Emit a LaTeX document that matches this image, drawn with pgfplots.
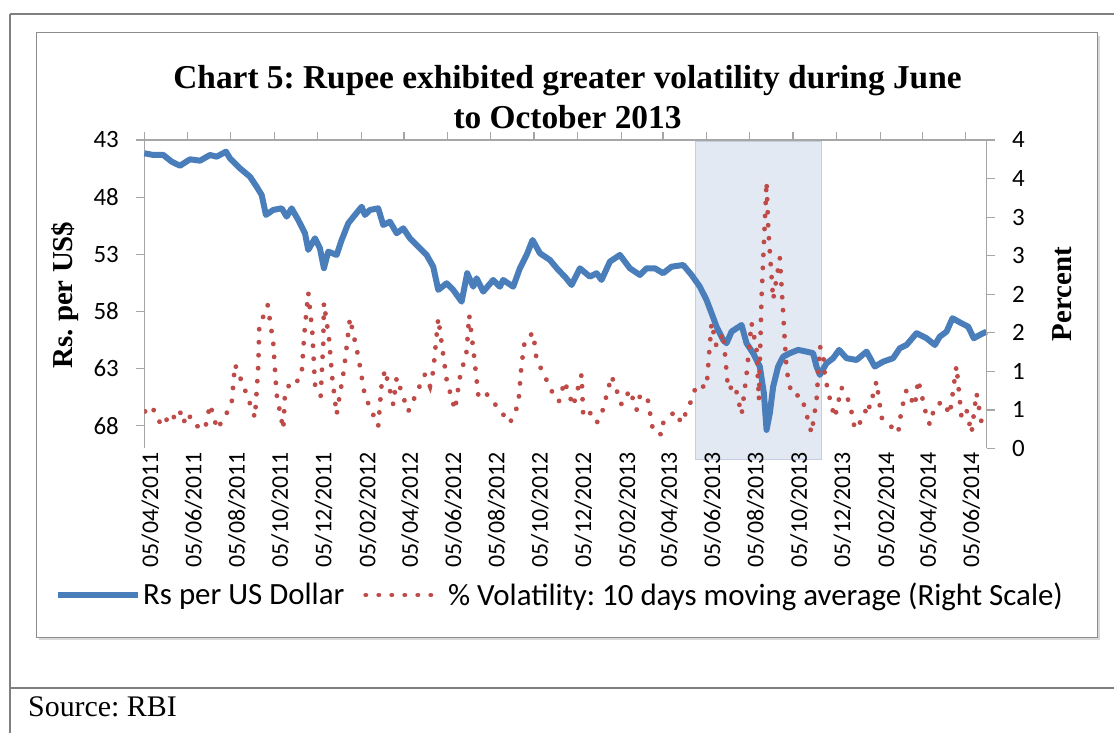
\documentclass[border=0pt]{standalone}
\usepackage{fontspec}
\setmainfont{Liberation Serif}
\newfontfamily\calibri{Carlito}
\usepackage{pgfplots}
\pgfplotsset{compat=1.18}
\definecolor{rsblue}{HTML}{4A7EBB}
\definecolor{volred}{HTML}{BE4B48}
\definecolor{axisgray}{HTML}{A6A6A6}
\definecolor{shadeblue}{HTML}{E3E9F3}
\definecolor{shadeedge}{HTML}{C3CEE0}
\definecolor{framegray}{HTML}{8C8C8C}
\definecolor{pagegray}{HTML}{7F7F7F}
\frenchspacing

% day 0 = 05/04/2011, ticks every two months
\pgfplotsset{
  chartbase/.style={
    at={(144.3bp,284.5bp)}, anchor=south west, scale only axis,
    width=842.4bp, height=308.5bp,
    xmin=0, xmax=1187,
    axis line style={draw=axisgray, line width=1.5bp},
    tick style={draw=axisgray, line width=1.2bp},
    major tick length=8bp,
    /pgf/number format/assume math mode=true,
    tick label style={font=\calibri\fontsize{25}{30}\selectfont, text=black},
    xtick={0,61,122,183,244,306,366,427,488,549,610,672,731,792,853,914,975,1037,1096,1157},
  },
  linelegend/.style={legend image code/.code={\draw[##1] (0bp,0bp) -- (80bp,0bp);}},
  dotlegend/.style={legend image code/.code={\draw[##1] (2bp,0bp) -- (70bp,0bp); \path (80bp,0bp);}},
}

\begin{document}
\begin{tikzpicture}
\useasboundingbox (0,0) rectangle (1114bp,733bp);
% page frame
\draw[pagegray, line width=2bp] (10bp,719bp) -- (1114bp,719bp);
\draw[pagegray, line width=1.5bp] (10bp,719bp) -- (10bp,0bp);
\draw[pagegray, line width=2bp] (10bp,45bp) -- (1114bp,45bp);
\node[anchor=west, inner sep=0pt, font=\fontsize{30}{34}\selectfont] at (28bp,26bp) {Source: RBI};
% chart frame
\fill[black!15] (39bp,93bp) rectangle (1100bp,697bp);
\draw[framegray, line width=1bp, fill=white] (36bp,95bp) rectangle (1097bp,700bp);

% left scale: Rs per US dollar (reversed)
\begin{axis}[chartbase,
  y dir=reverse, ymin=43, ymax=70, ytick={43,48,53,58,63,68},
  axis y line*=left, axis x line=none, tick align=outside, clip=false,
  yticklabel style={xshift=-14bp},
  ylabel={Rs. per US\$},
  ylabel style={at={(axis description cs:-0.0941,0.4976)}, anchor=center,
    font=\bfseries\fontsize{29}{32}\selectfont},
]
\fill[shadeblue, draw=shadeedge, line width=1bp] (axis cs:776,43.1) rectangle (axis cs:954,71.0);
\addplot[rsblue, line width=6bp, line join=round] coordinates {
(0,44.16) (12.7,44.31) (26.8,44.31) (38.6,44.90) (50.3,45.25) (64.4,44.69)
(78.5,44.81) (92.6,44.31) (102.0,44.46) (115.1,44.02) (120.7,44.60) (134.8,45.48)
(148.9,46.21) (158.3,47.09) (165.4,47.81) (171.4,49.56) (181.7,49.12) (193.6,48.98)
(200.6,49.71) (207.6,48.98) (216.9,50.00) (226.4,51.16) (231.0,52.62) (240.5,51.60)
(247.5,52.48) (253.1,54.22) (259.2,52.77) (271.0,53.06) (278.1,51.75) (287.4,50.29)
(296.8,49.56) (306.3,48.84) (310.9,49.56) (318.0,49.12) (329.6,48.98) (336.7,50.44)
(346.1,50.15) (355.6,51.16) (364.9,50.73) (374.3,51.60) (386.0,52.34) (397.8,53.06)
(407.1,54.09) (414.2,56.12) (426.0,55.54) (435.3,56.12) (447.1,57.15) (455.0,54.66)
(463.5,55.84) (468.2,55.10) (477.6,56.27) (491.6,55.25) (501.1,55.84) (505.7,55.25)
(519.8,55.84) (529.2,54.23) (538.7,53.06) (547.1,51.75) (557.4,52.91) (571.5,53.50)
(583.2,54.37) (592.6,54.96) (602.1,55.69) (613.8,54.23) (627.9,54.96) (637.3,54.66)
(644.3,55.25) (656.0,53.65) (670.1,53.06) (684.2,54.23) (698.3,54.81) (707.7,54.23)
(719.4,54.23) (731.1,54.66) (742.9,54.09) (759.3,53.94) (771.1,54.81) (782.8,55.84)
(792.2,57.00) (799.3,58.16) (806.3,59.33) (815.6,60.50) (820.4,60.79) (827.5,59.77)
(841.6,59.19) (848.6,60.79) (857.9,61.66) (867.3,62.83) (873.0,65.16) (876.8,68.37)
(881.4,66.91) (886.1,64.58) (893.1,62.83) (900.2,61.96) (909.6,61.66) (921.3,61.37)
(933.1,61.52) (942.4,61.66) (947.2,62.83) (951.9,63.56) (961.3,62.54) (970.6,62.10)
(979.0,61.37) (989.5,62.10) (1003.6,62.25) (1017.7,61.52) (1029.3,62.83) (1041.0,62.40)
(1055.1,62.10) (1064.6,61.22) (1074.0,60.94) (1088.1,59.91) (1102.2,60.35) (1113.9,60.94)
(1120.9,60.21) (1130.4,59.77) (1138.8,58.60) (1151.5,59.04) (1160.8,59.33) (1168.8,60.35)
(1177.3,60.06) (1186.7,59.77)
};
\end{axis}

% right scale: volatility (percent)
\begin{axis}[chartbase,
  ymin=0, ymax=4, ytick={0,0.5,1,1.5,2,2.5,3,3.5,4},
  yticklabels={0,1,1,2,2,3,3,4,4},
  axis y line*=right, axis x line*=top, tick align=outside,
  xticklabels={},
  yticklabel style={xshift=14bp},
  ylabel={Percent},
  ylabel style={at={(axis description cs:1.0894,0.5)}, anchor=center, rotate=0,
    font=\bfseries\fontsize{29}{32}\selectfont},
]
\addplot[volred, line width=4.8bp, line cap=round, dash pattern=on 0.1bp off 12.9bp] coordinates {
(1.0,0.48) (10.4,0.55) (24.5,0.29) (38.6,0.46) (43.2,0.38) (50.3,0.48) (54.9,0.33)
(62.0,0.46) (69.0,0.31) (85.5,0.25) (92.6,0.57) (98.2,0.40) (102.8,0.25) (116.1,0.46)
(123.1,0.59) (127.8,1.09) (137.2,0.87) (144.3,0.70) (155.9,0.40) (160.6,1.07) (162.0,1.58)
(173.8,1.86) (181.7,1.37) (186.5,0.70) (195.8,0.25) (198.2,0.70) (205.2,0.85) (212.3,0.83)
(221.7,0.96) (225.4,1.48) (231.0,2.02) (236.7,1.52) (240.5,0.83) (248.5,0.68) (252.2,1.37)
(253.1,1.89) (260.2,1.43) (264.8,0.92) (271.0,0.44) (281.3,1.02) (289.8,1.69)
(301.5,1.19) (310.9,0.68) (329.6,0.29) (334.4,0.83) (339.1,1.02) (350.8,0.57) (355.6,0.92)
(371.9,0.48) (383.7,0.72) (395.4,0.96) (402.5,0.81) (407.1,1.00) (414.2,1.69) (418.9,1.37)
(426.0,0.89) (437.7,0.50) (444.7,0.92) (454.2,1.26) (457.8,1.73) (464.4,1.22) (470.5,0.70)
(477.6,0.76) (496.4,0.55) (515.2,0.33) (526.9,0.57) (531.6,1.09) (536.3,1.41) (548.0,1.50)
(552.8,1.15) (562.1,0.98) (578.5,0.66) (584.2,0.61) (592.2,0.87)
(604.3,0.55) (616.2,0.96) (618.4,0.44) (625.5,0.50) (637.3,0.33) (644.3,0.44) (658.4,0.94)
(672.5,0.57) (684.2,0.76) (693.6,0.50) (698.3,0.68) (708.6,0.68) (717.0,0.22) (728.9,0.18)
(731.1,0.33) (747.6,0.48) (757.0,0.33) (771.1,0.63) (778.2,0.83) (792.2,0.79) (799.3,1.63)
(806.3,1.32) (815.6,1.50) (822.7,0.76) (832.1,0.83) (841.6,0.44) (848.6,0.96) (855.6,1.63)
(862.7,1.28) (866.0,0.63) (869.7,1.95) (876.8,3.46) (879.3,2.83) (886.1,1.93) (895.5,2.47)
(905.0,1.02) (912.0,0.70)
(926.1,0.68) (940.2,0.20) (947.2,0.63) (951.9,1.32) (956.5,1.26) (958.9,0.94) (968.3,0.55)
(973.0,0.40) (982.4,0.79) (994.1,0.59) (1001.2,0.25) (1015.2,0.42) (1017.7,0.59) (1022.3,0.53)
(1031.7,0.87) (1038.8,0.40) (1062.2,0.20) (1066.9,0.50) (1074.0,0.76) (1085.7,0.55) (1090.4,0.89)
(1101.2,0.46) (1106.8,0.31) (1113.9,0.55) (1125.5,0.61) (1135.0,0.44) (1144.4,1.07) (1151.5,0.40)
(1158.5,0.50) (1165.6,0.20) (1172.6,0.72) (1181.9,0.22)
};
\end{axis}

% date labels, title and legend
\begin{axis}[chartbase,
  ymin=0, ymax=1,
  axis x line*=bottom, axis y line=none,
  x axis line style={draw=none}, xtick style={draw=none},
  xticklabels={05/04/2011,05/06/2011,05/08/2011,05/10/2011,05/12/2011,05/02/2012,05/04/2012,05/06/2012,05/08/2012,05/10/2012,05/12/2012,05/02/2013,05/04/2013,05/06/2013,05/08/2013,05/10/2013,05/12/2013,05/02/2014,05/04/2014,05/06/2014},
  xticklabel style={rotate=90, anchor=east, yshift=-6bp, font=\calibri\fontsize{24}{28}\selectfont},
  title={Chart 5: Rupee exhibited greater volatility during June\\to October 2013},
  title style={at={(axis description cs:0.5024,1.120)}, anchor=center, align=center,
    font=\bfseries\fontsize{33.5}{40}\selectfont},
  legend style={at={(axis description cs:-0.106,-0.4749)}, anchor=west, draw=none, fill=none,
    inner sep=0pt, font=\calibri\fontsize{31}{34}\selectfont,
    /tikz/every even column/.append style={column sep=17bp}},
  legend columns=2, legend cell align=left,
]
\addlegendimage{rsblue, line width=6bp, linelegend}
\addlegendentry{Rs per US Dollar}
\addlegendimage{volred, line width=4.8bp, line cap=round, dash pattern=on 0.1bp off 12.9bp, dotlegend}
\addlegendentry{\% Volatility: 10 days moving average (Right Scale)}
\end{axis}
\end{tikzpicture}
\end{document}
